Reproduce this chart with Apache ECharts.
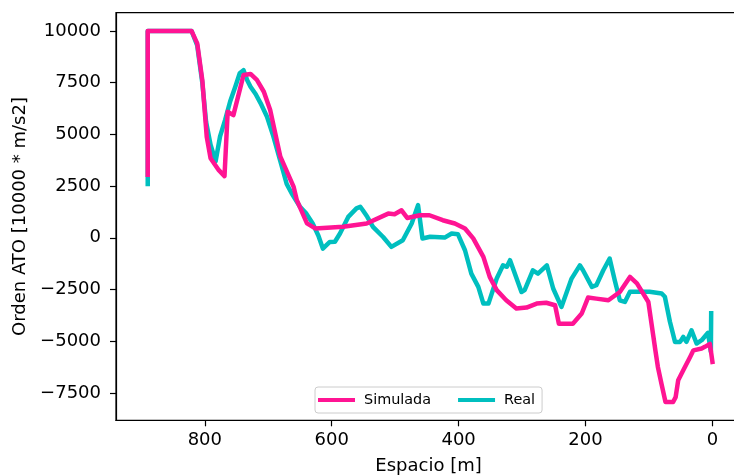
<!DOCTYPE html>
<html>
<head>
<meta charset="utf-8">
<script src="https://cdn.jsdelivr.net/npm/echarts@6/dist/echarts.min.js"></script>
<style>
  html, body { margin: 0; padding: 0; background: #fff; overflow: hidden; }
  /* the frame runs past the right edge of the window, as the figure is cut there */
  #chart { width: 770px; height: 476px; }
</style>
</head>
<body>
<div id="chart"></div>
<script>
// Distance to the end point [m] and ATO command, simulated run
const simuladaX = [890, 890, 860, 821, 812, 804, 797, 791, 778, 769, 764, 755, 739, 728, 718, 707, 697, 681, 660, 655, 639, 626, 582, 545, 511, 501, 490, 481, 461, 446, 425, 406, 390, 377, 361, 351, 340, 325, 309, 293, 277, 262, 248, 242, 220, 206, 196, 183, 164, 146, 130, 119, 101, 93, 90, 86, 80, 74, 62, 58, 54, 46, 35, 30, 17, 12, 4, 0];
const simuladaY = [3050, 10000, 10000, 10000, 9400, 7630, 4880, 3850, 3270, 2980, 6090, 5930, 7870, 7920, 7630, 7060, 6180, 3920, 2460, 1820, 700, 455, 530, 690, 1170, 1140, 1330, 960, 1090, 1090, 850, 690, 450, -30, -920, -1890, -2530, -3020, -3420, -3370, -3180, -3140, -3260, -4150, -4150, -3660, -2890, -2940, -3020, -2620, -1890, -2200, -3100, -4790, -5430, -6240, -7100, -7940, -7940, -7700, -6890, -6400, -5750, -5440, -5350, -5270, -5130, -6000];

// Distance to the end point [m] and ATO command, recorded run
const realX = [890, 890, 860, 821, 812, 804, 798, 791, 783, 776, 768, 760, 752, 745, 739, 733, 728, 720, 712, 702, 692, 681, 671, 663, 650, 640, 630, 621, 614, 603, 595, 587, 574, 561, 555, 551, 544, 535, 519, 506, 488, 474, 464, 457, 445, 422, 411, 401, 390, 380, 369, 361, 353, 340, 330, 324, 319, 301, 296, 283, 275, 261, 251, 238, 222, 209, 204, 190, 183, 172, 162, 154, 146, 138, 130, 99, 80, 75, 67, 59, 51, 46, 41, 33, 25, 17, 7, 2.5, 2];
const realY = [2600, 10000, 10000, 10000, 9300, 7500, 5600, 4500, 3700, 4900, 5700, 6600, 7300, 7950, 8100, 7600, 7300, 6950, 6500, 5850, 4900, 3700, 2600, 2140, 1500, 1170, 690, 100, -520, -200, -190, 210, 1010, 1420, 1500, 1330, 1015, 530, 40, -440, -120, 690, 1580, -30, 50, 10, 210, 170, -600, -1730, -2370, -3180, -3180, -1970, -1330, -1400, -1080, -2620, -2530, -1570, -1730, -1330, -2450, -3340, -1970, -1330, -1570, -2370, -2290, -1570, -1000, -2050, -3020, -3100, -2610, -2610, -2690, -2850, -4060, -5030, -5030, -4790, -5030, -4470, -5110, -4950, -4590, -5500, -3650];

const xTicks = [0, 200, 400, 600, 800];
const yTicks = [-7500, -5000, -2500, 0, 2500, 5000, 7500, 10000];

const pair = (xs, ys) => xs.map((x, i) => [x, ys[i]]);
const font = 'DejaVu Sans';
const spine = { show: true, onZero: false, lineStyle: { color: '#000', width: 1.2 } };

const chart = echarts.init(document.getElementById('chart'), null, { renderer: 'canvas' });
chart.setOption({
  animation: false,
  backgroundColor: '#ffffff',
  textStyle: { fontFamily: font },
  grid: {
    left: 116, top: 12.7, width: 625, height: 407.6,
    outerBoundsMode: 'none', containLabel: false, show: true,
    borderColor: '#000', borderWidth: 1.2, backgroundColor: 'transparent'
  },
  legend: {
    left: 315, top: 387,
    orient: 'horizontal',
    data: ['Simulada', 'Real'],
    icon: 'rect',
    itemWidth: 37, itemHeight: 4,
    itemGap: 27,
    padding: [5, 7, 5, 3],
    backgroundColor: '#fff',
    borderColor: '#cccccc', borderWidth: 1, borderRadius: 3,
    textStyle: { fontFamily: font, fontSize: 14.4, color: '#000', padding: [0, 0, 0, 4], lineHeight: 16 }
  },
  xAxis: {
    type: 'value', inverse: true, min: -45, max: 940, position: 'bottom',
    name: 'Espacio [m]', nameLocation: 'middle', nameGap: 37,
    nameTextStyle: { fontFamily: font, fontSize: 18, color: '#000' },
    axisLine: spine,
    axisTick: { show: true, customValues: xTicks, length: 6, lineStyle: { color: '#000', width: 1.2 } },
    axisLabel: { customValues: xTicks, margin: 11, fontFamily: font, fontSize: 18, color: '#000' },
    splitLine: { show: false }
  },
  yAxis: {
    type: 'value', min: -8820, max: 10880,
    name: 'Orden ATO [10000 * m/s2]', nameLocation: 'middle', nameGap: 79,
    nameTextStyle: { fontFamily: font, fontSize: 18, color: '#000' },
    axisLine: spine,
    axisTick: { show: true, customValues: yTicks, length: 6, lineStyle: { color: '#000', width: 1.2 } },
    axisLabel: {
      customValues: yTicks, margin: 15, fontFamily: font, fontSize: 18, color: '#000',
      formatter: v => String(v).replace('-', '\u2212')
    },
    splitLine: { show: false }
  },
  series: [
    {
      name: 'Real', type: 'line', data: pair(realX, realY),
      showSymbol: false, symbol: 'none', smooth: false,
      itemStyle: { color: '#00bfbf' },
      lineStyle: { color: '#00bfbf', width: 4.5, join: 'round', cap: 'square' },
      z: 2
    },
    {
      name: 'Simulada', type: 'line', data: pair(simuladaX, simuladaY),
      showSymbol: false, symbol: 'none', smooth: false,
      itemStyle: { color: '#ff1493' },
      lineStyle: { color: '#ff1493', width: 4.5, join: 'round', cap: 'square' },
      z: 3
    }
  ]
});
</script>
</body>
</html>
